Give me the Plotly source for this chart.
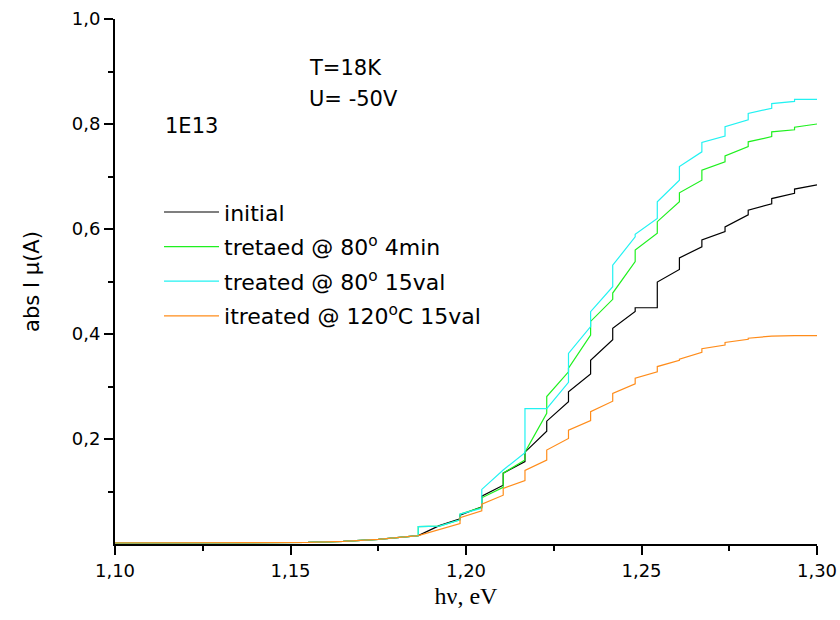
import plotly.graph_objects as go

# Step positions (eV) where the measured curves jump
x_steps = [1.1864, 1.1924, 1.1983, 1.2045, 1.2106, 1.2168, 1.2230, 1.2292, 1.2355,
           1.2418, 1.2482, 1.2545, 1.2608, 1.2672, 1.2738, 1.2804, 1.2871, 1.2936]
x_end = 1.30

# Lead-in (flat) part, common to all curves
lead_x = [1.10, 1.155, 1.165, 1.175]
lead_y = [0.002, 0.003, 0.005, 0.009]

# value just before / just after each step
initial_before = [0.016, 0.035, 0.048, 0.071, 0.112, 0.157, 0.215, 0.271, 0.324,
                  0.389, 0.443, 0.450, 0.523, 0.566, 0.595, 0.627, 0.648, 0.668]
initial_after = [0.016, 0.035, 0.055, 0.091, 0.135, 0.175, 0.234, 0.290, 0.350,
                 0.411, 0.450, 0.499, 0.545, 0.579, 0.604, 0.636, 0.658, 0.676]
initial_end = 0.684

t4min_before = [0.016, 0.034, 0.046, 0.070, 0.108, 0.160, 0.249, 0.328, 0.398,
                0.466, 0.538, 0.592, 0.652, 0.693, 0.728, 0.757, 0.776, 0.789]
t4min_after = [0.033, 0.034, 0.057, 0.088, 0.135, 0.175, 0.281, 0.335, 0.424,
               0.478, 0.560, 0.614, 0.669, 0.712, 0.739, 0.766, 0.785, 0.794]
t4min_end = 0.800

t15_before = [0.016, 0.034, 0.046, 0.068, 0.141, 0.174, 0.258, 0.308, 0.414,
              0.490, 0.585, 0.620, 0.693, 0.747, 0.777, 0.808, 0.830, 0.843]
t15_after = [0.033, 0.034, 0.057, 0.104, 0.141, 0.258, 0.258, 0.363, 0.4425,
             0.531, 0.590, 0.652, 0.719, 0.765, 0.795, 0.820, 0.839, 0.847]
t15_end = 0.847

t120_before = [0.016, 0.028, 0.039, 0.063, 0.093, 0.121, 0.160, 0.201, 0.235,
               0.272, 0.305, 0.328, 0.350, 0.365, 0.379, 0.390, 0.396, 0.397]
t120_after = [0.016, 0.028, 0.050, 0.076, 0.106, 0.140, 0.179, 0.217, 0.252,
              0.287, 0.316, 0.338, 0.352, 0.372, 0.384, 0.392, 0.396, 0.397]
t120_end = 0.397

names = ["initial",
         "tretaed @ 80<sup>o</sup> 4min",
         "treated @ 80<sup>o</sup> 15val",
         "itreated @ 120<sup>o</sup>C 15val"]
colors = ["#000000", "#1ff01f", "#22f2f2", "#ff8c1a"]

x_tickvals = [1.10, 1.15, 1.20, 1.25, 1.30]
x_ticktext = ["1,10", "1,15", "1,20", "1,25", "1,30"]
y_tickvals = [0.2, 0.4, 0.6, 0.8, 1.0]
y_ticktext = ["0,2", "0,4", "0,6", "0,8", "1,0"]


def build(before, after, end):
    xs = list(lead_x)
    ys = list(lead_y)
    for xv, b, a in zip(x_steps, before, after):
        xs += [xv, xv]
        ys += [b, a]
    xs.append(x_end)
    ys.append(end)
    return xs, ys


series = [(initial_before, initial_after, initial_end),
          (t4min_before, t4min_after, t4min_end),
          (t15_before, t15_after, t15_end),
          (t120_before, t120_after, t120_end)]

fig = go.Figure()
for i, ((b, a, e), nm, c) in enumerate(zip(series, names, colors)):
    xs, ys = build(b, a, e)
    fig.add_trace(go.Scatter(x=xs, y=ys, mode="lines", name=nm,
                             line=dict(color=c, width=1.2),
                             legendgroup=f"g{i}"))

font_main = "DejaVu Sans, Verdana, sans-serif"

fig.update_layout(
    template="none",
    width=840, height=620,
    margin=dict(l=115, r=23, t=19, b=76, pad=0),
    paper_bgcolor="white", plot_bgcolor="white",
    separators=",.",
    font=dict(family=font_main, size=18, color="black"),
    showlegend=True,
    legend=dict(x=0.0627, y=0.672, xanchor="left", yanchor="top",
                bgcolor="rgba(0,0,0,0)", borderwidth=0, font=dict(size=22),
                traceorder="grouped", tracegroupgap=3, itemwidth=55),
    xaxis=dict(range=[1.10, 1.30], tickmode="array",
               tickvals=x_tickvals, ticktext=x_ticktext, automargin=False,
               ticks="outside", ticklen=9, tickwidth=2, tickcolor="black",
               minor=dict(tickvals=[1.125, 1.175, 1.225, 1.275], ticks="outside",
                          ticklen=5, tickwidth=1.5, tickcolor="black"),
               showline=True, linecolor="black", linewidth=2,
               showgrid=False, zeroline=False,
               tickfont=dict(size=18),
               title=dict(text="hν, eV", standoff=8,
                          font=dict(family="Liberation Serif, Times New Roman, serif", size=24))),
    yaxis=dict(range=[0, 1.0], tickmode="array",
               tickvals=y_tickvals, ticktext=y_ticktext, automargin=False,
               ticks="outside", ticklen=9, tickwidth=2, tickcolor="black",
               minor=dict(tickvals=[0.1, 0.3, 0.5, 0.7, 0.9], ticks="outside",
                          ticklen=5, tickwidth=1.5, tickcolor="black"),
               showline=True, linecolor="black", linewidth=2,
               showgrid=False, zeroline=False,
               tickfont=dict(size=18),
               title=dict(text="abs I μ(A)", standoff=26, font=dict(size=21))),
)

annots = [("T=18K", 1.1546, 0.907), ("U= -50V", 1.1546, 0.848), ("1E13", 1.1136, 0.797)]
for txt, xv, yv in annots:
    fig.add_annotation(x=xv, y=yv, xref="x", yref="y", text=txt, showarrow=False,
                       xanchor="left", yanchor="middle", font=dict(size=21))

fig.write_html("out.html")
